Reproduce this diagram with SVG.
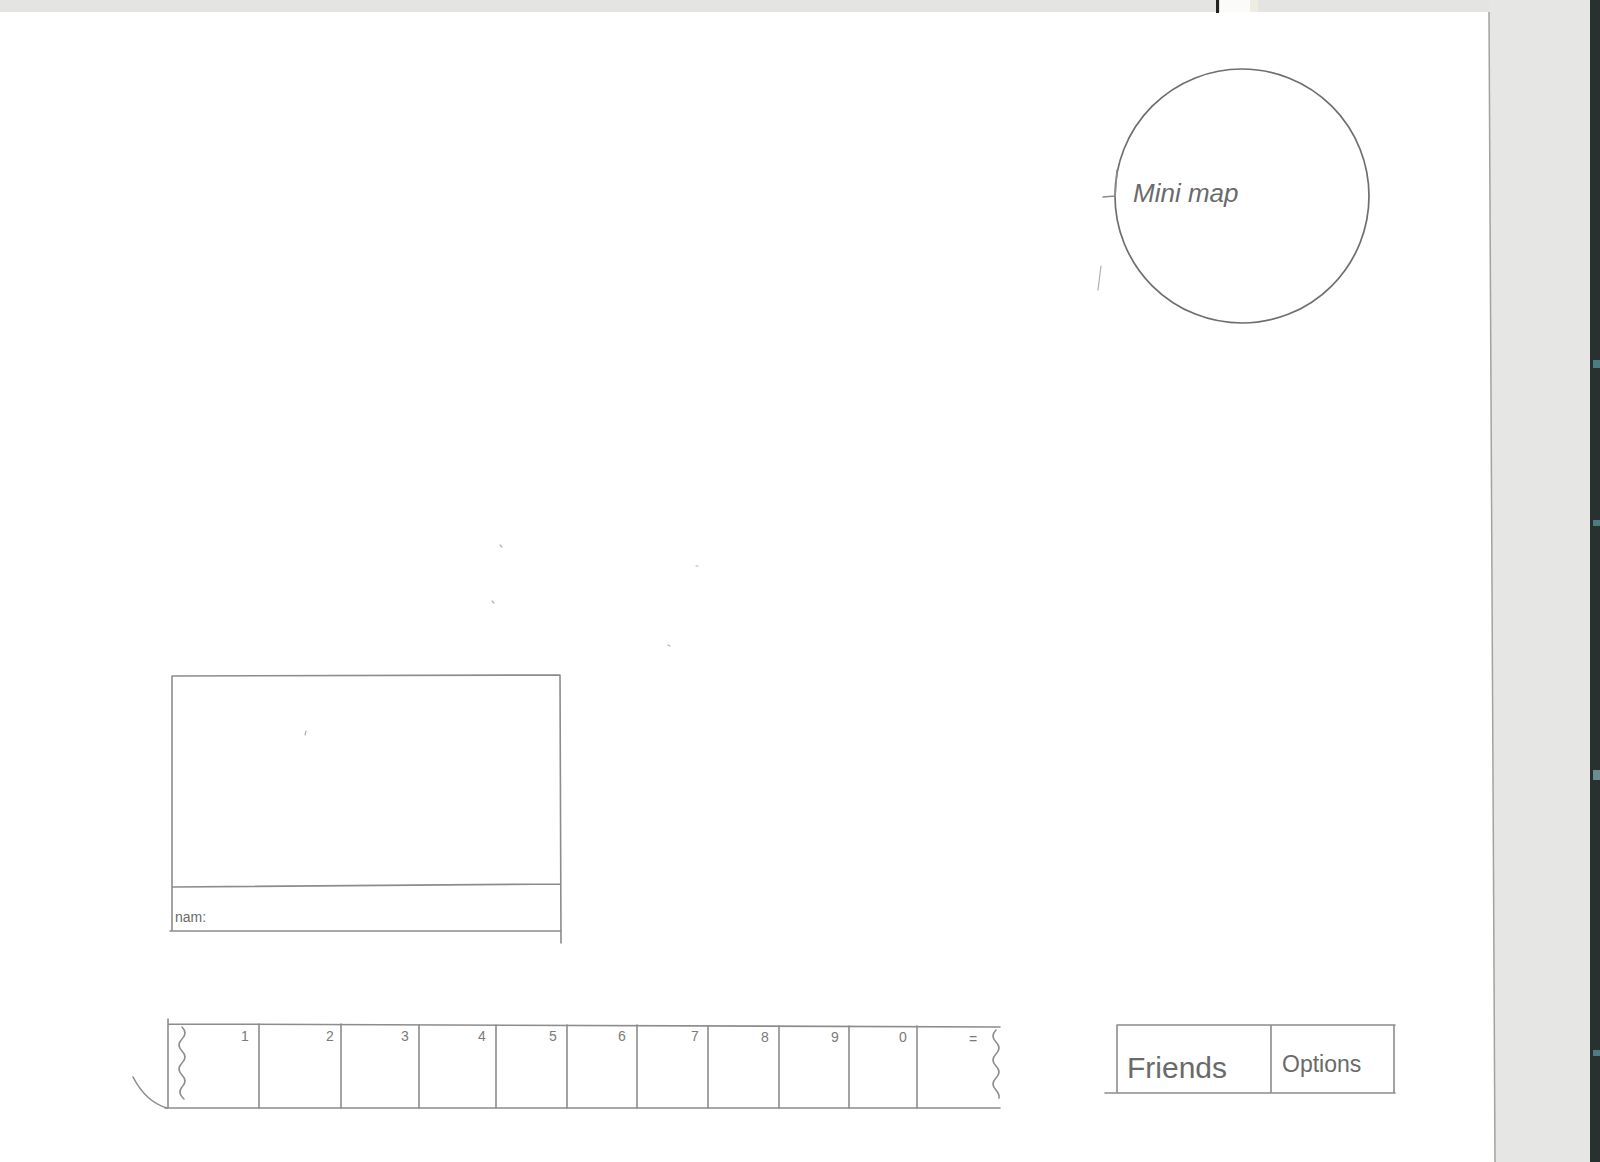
<svg xmlns="http://www.w3.org/2000/svg" width="1600" height="1162" viewBox="0 0 1600 1162">
<style>
.p{fill:none;stroke:#8c8c8c;stroke-width:1.6;stroke-linecap:round}
.pd{fill:none;stroke:#6e6e6e;stroke-width:1.7}
.hw{font-family:"Liberation Sans",Arial,sans-serif;fill:#6a6a6a}
.num{font-family:"Liberation Sans",Arial,sans-serif;fill:#7a7a7a;font-size:14px;text-anchor:middle}
.speck{stroke:#b0b0b0;stroke-width:1.2;stroke-linecap:round}
</style>
<rect x="0" y="0" width="1600" height="1162" fill="#ffffff"/>
<g id="scan-border">
<rect x="0" y="0" width="1600" height="12" fill="#e4e5e3"/>
<polygon points="1489,0 1591,0 1591,1162 1495,1162" fill="#e6e7e4"/>
<line x1="1489" y1="12" x2="1495" y2="1162" stroke="#a2a3a1" stroke-width="1.5"/>
<rect x="1590" y="0" width="10" height="1162" fill="#283030"/>
<rect x="1593" y="360" width="7" height="8" fill="#4a7c80"/>
<rect x="1593" y="520" width="7" height="6" fill="#4a7c80"/>
<rect x="1593" y="770" width="7" height="10" fill="#6a8e90"/>
<rect x="1593" y="1050" width="7" height="6" fill="#4a7c80"/>
<rect x="1220" y="0" width="30" height="12" fill="#fbfbfa"/>
<rect x="1250" y="0" width="8" height="12" fill="#eeeddf"/>
<rect x="1216" y="0" width="3" height="13" fill="#222222"/>
</g>
<g id="minimap">
<circle cx="1242" cy="196" r="127" class="pd"/>
<path d="M1103,197 L1115,196 M1117,170 L1115,197" class="p"/>
<text x="1133" y="202" class="hw" font-size="26" font-style="italic">Mini map</text>
</g>
<g id="chat">
<path d="M172,676 L560,675 M172,676 L172,931 M560,675 L561,943 M172,887 L560,884 M170,931 L560,931" class="p"/>
<text x="175" y="922" class="hw" font-size="14">nam:</text>
</g>
<g id="hotbar">
<path d="M168,1019 L168,1108 M168,1024 L1000,1027 M165,1108 L1000,1108" class="p"/>
<path d="M259,1024 V1108 M341,1024 V1108 M419,1025 V1108 M496,1025 V1108 M567,1025 V1108 M637,1025 V1108 M708,1026 V1108 M779,1026 V1108 M849,1026 V1108 M917,1026 V1108" class="p"/>
<path d="M133,1077 Q146,1102 167,1108" class="p" stroke="#7a7a7a"/>
<path d="M182,1027 q6,6 0,12 q-6,6 0,12 q6,6 0,12 q-6,6 0,12 q6,6 0,12 q-5,6 2,12" class="p" stroke="#a0a0a0"/>
<path d="M996,1030 q-6,6 0,12 q6,6 0,12 q-6,6 0,12 q6,6 0,12 q-6,6 0,12 q4,5 3,8" class="p" stroke="#a0a0a0"/>
<text x="245" y="1041" class="num">1</text>
<text x="330" y="1041" class="num">2</text>
<text x="405" y="1041" class="num">3</text>
<text x="482" y="1041" class="num">4</text>
<text x="553" y="1041" class="num">5</text>
<text x="622" y="1041" class="num">6</text>
<text x="695" y="1041" class="num">7</text>
<text x="765" y="1042" class="num">8</text>
<text x="835" y="1042" class="num">9</text>
<text x="903" y="1042" class="num">0</text>
<text x="973" y="1044" class="num">=</text>
</g>
<g id="menu">
<path d="M1117,1025 L1395,1025 M1105,1093 L1395,1093 M1117,1025 L1117,1093 M1271,1025 L1271,1093 M1394,1025 L1394,1093" class="p"/>
<text x="1127" y="1078" class="hw" font-size="30">Friends</text>
<text x="1282" y="1072" class="hw" font-size="23">Options</text>
</g>
<g id="specks">
<line x1="306" y1="731" x2="305" y2="735" class="speck"/>
<line x1="500" y1="545" x2="502" y2="547" class="speck"/>
<line x1="696" y1="566" x2="698" y2="566" class="speck"/>
<line x1="492" y1="601" x2="494" y2="603" class="speck"/>
<line x1="668" y1="645" x2="670" y2="646" class="speck"/>
<line x1="1101" y1="266" x2="1098" y2="290" class="speck"/>
</g>
</svg>
